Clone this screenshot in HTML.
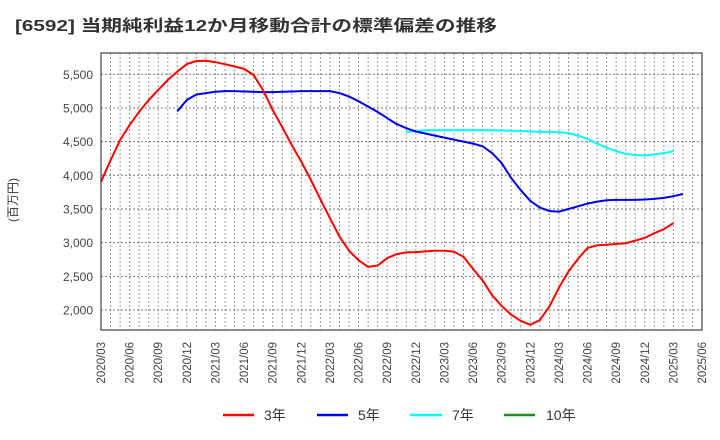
<!DOCTYPE html>
<html><head><meta charset="utf-8"><style>
body{margin:0;background:#fff;}
svg{display:block;font-family:"Liberation Sans","Noto Sans CJK JP",sans-serif;}
</style></head><body>
<svg id="chart" width="720" height="440" viewBox="0 0 720 440">
<text x="15" y="31" font-size="16" font-weight="bold" fill="#333" textLength="482" lengthAdjust="spacingAndGlyphs">[6592]  当期純利益12か月移動合計の標準偏差の推移</text>
<text transform="translate(17,200) rotate(-90)" text-anchor="middle" font-size="12" fill="#333">(百万円)</text>
<g id="grid"></g>
<g id="ylabels"></g>
<g id="xlabels"></g>
<g id="series"></g>
<rect x="101" y="53" width="601" height="277" fill="none" stroke="#444" stroke-width="1.2"/>
<g>
<g><line x1="223" y1="415" x2="254" y2="415" stroke="#ff0000" stroke-width="2.5"/><text x="264" y="420" font-size="14" fill="#333">3年</text></g>
<g><line x1="317" y1="415" x2="348" y2="415" stroke="#0000ee" stroke-width="2.5"/><text x="358" y="420" font-size="14" fill="#333">5年</text></g>
<g><line x1="410" y1="415" x2="442" y2="415" stroke="#00ffff" stroke-width="2.5"/><text x="452" y="420" font-size="14" fill="#333">7年</text></g>
<g><line x1="504" y1="415" x2="535" y2="415" stroke="#228b22" stroke-width="2.5"/><text x="546" y="420" font-size="14" fill="#333">10年</text></g>
</g>
</svg>
<script>
const yTicks=[2000,2500,3000,3500,4000,4500,5000,5500];
const xTickLabels=["2020/03","2020/06","2020/09","2020/12","2021/03","2021/06","2021/09","2021/12","2022/03","2022/06","2022/09","2022/12","2023/03","2023/06","2023/09","2023/12","2024/03","2024/06","2024/09","2024/12","2025/03","2025/06"];
// monthly values, index 0 = 2020/03
const s3=[3905,4220,4524,4746,4945,5118,5267,5415,5540,5653,5697,5700,5680,5650,5615,5580,5490,5260,4970,4713,4450,4202,3930,3644,3361,3090,2880,2740,2640,2660,2770,2830,2855,2860,2870,2880,2880,2865,2790,2610,2440,2220,2060,1930,1840,1780,1850,2050,2330,2570,2760,2920,2960,2970,2980,2990,3030,3070,3140,3200,3290];
const s5start=8;
const s5=[4950,5120,5200,5220,5240,5250,5250,5245,5240,5235,5235,5240,5245,5250,5250,5250,5250,5220,5170,5100,5020,4940,4850,4760,4700,4650,4620,4590,4560,4530,4500,4470,4430,4330,4180,3960,3780,3620,3520,3470,3460,3500,3540,3580,3610,3630,3635,3635,3635,3640,3650,3665,3690,3723];
const s7start=32;
const s7=[4645,4660,4668,4670,4670,4670,4670,4670,4670,4668,4665,4662,4658,4650,4645,4645,4640,4625,4590,4540,4470,4410,4360,4320,4300,4295,4310,4330,4360];
const yMin=1703,yMax=5816,L=101,R=702,T=53,B=330,months=63;
const NS="http://www.w3.org/2000/svg";
function X(m){return L+(R-L)*m/months;}
function Y(v){return B-(v-yMin)/(yMax-yMin)*(B-T);}
const grid=document.getElementById('grid');
for(let m=1;m<months;m++){
 const l=document.createElementNS(NS,'line');
 
 
 l.setAttribute('x1',X(m));l.setAttribute('x2',X(m));l.setAttribute('y1',T);l.setAttribute('y2',B);
 l.setAttribute('stroke','#999');l.setAttribute('stroke-dasharray','2,2');l.setAttribute('stroke-width','1');
 grid.appendChild(l);
}
const yl=document.getElementById('ylabels');
yTicks.forEach(v=>{
 const l=document.createElementNS(NS,'line');
 
 
 l.setAttribute('x1',L);l.setAttribute('x2',R);l.setAttribute('y1',Y(v));l.setAttribute('y2',Y(v));
 l.setAttribute('stroke','#777');l.setAttribute('stroke-dasharray','2,2');
 grid.appendChild(l);
 const t=document.createElementNS(NS,'text');
 
 
 t.setAttribute('x',93);t.setAttribute('y',Y(v)+4.5);t.setAttribute('text-anchor','end');
 t.setAttribute('font-size','12');t.setAttribute('fill','#444');
 t.textContent=v.toLocaleString('en-US');yl.appendChild(t);
});
const xl=document.getElementById('xlabels');
xTickLabels.forEach((s,i)=>{
 const t=document.createElementNS(NS,'text');
 
 
 const x=X(i*3)+4;
 t.setAttribute('transform','translate('+x+',342) rotate(-90)');
 t.setAttribute('text-anchor','end');t.setAttribute('font-size','11.5');t.setAttribute('fill','#444');
 t.textContent=s;xl.appendChild(t);
});
const sg=document.getElementById('series');
function draw(arr,start,color,name){
 const p=document.createElementNS(NS,'polyline');
 
 
 p.setAttribute('points',arr.map((v,i)=>X(start+i).toFixed(1)+','+Y(v).toFixed(1)).join(' '));
 p.setAttribute('fill','none');p.setAttribute('stroke',color);p.setAttribute('stroke-width','2');p.setAttribute('stroke-linejoin','round');
 sg.appendChild(p);
}
draw(s7,s7start,'#00ffff','line-7y');
draw(s5,s5start,'#0000ee','line-5y');
draw(s3,0,'#ff0000','line-3y');
</script>
</body></html>
